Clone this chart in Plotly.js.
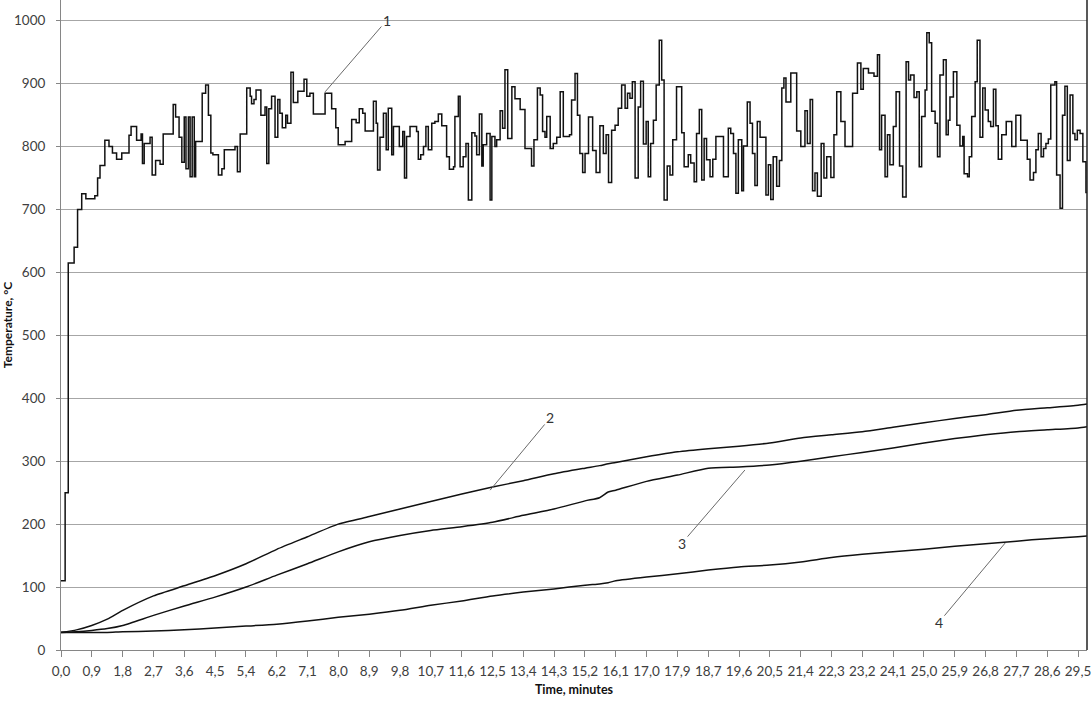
<!DOCTYPE html>
<html>
<head>
<meta charset="utf-8">
<script src="https://cdn.plot.ly/plotly-3.0.1.min.js"></script>
<style>
html,body{margin:0;padding:0;background:#fff;}
#chart{width:1092px;height:707px;}
</style>
</head>
<body>
<div id="chart"></div>
<script>
// ---- Data ----
// Tick labels of the time axis (minutes), one every 0.89275 min in the source data
const tickLabels = ["0,0","0,9","1,8","2,7","3,6","4,5","5,4","6,2","7,1","8,0","8,9","9,8","10,7","11,6","12,5","13,4","14,3","15,2","16,1","17,0","17,9","18,7","19,6","20,5","21,4","22,3","23,2","24,1","25,0","25,9","26,8","27,7","28,6","29,5"];
const labelStep = 0.89275;

// Curve 1: gas temperature (stepped trace)
const time1 = [0.00,0.12,0.21,0.38,0.48,0.60,0.72,0.98,1.06,1.13,1.27,1.39,1.49,1.61,1.76,1.97,2.03,2.19,2.32,2.36,2.41,2.58,2.64,2.74,2.87,2.96,3.25,3.32,3.42,3.50,3.57,3.62,3.69,3.74,3.80,3.86,3.90,4.09,4.19,4.27,4.34,4.40,4.56,4.66,4.73,5.04,5.11,5.19,5.38,5.48,5.52,5.59,5.65,5.79,5.91,5.96,6.02,6.10,6.20,6.28,6.34,6.41,6.51,6.56,6.66,6.73,6.86,7.04,7.12,7.21,7.31,7.65,7.84,7.96,8.03,8.23,8.42,8.55,8.64,8.74,8.81,9.05,9.13,9.17,9.24,
9.34,9.42,9.48,9.58,9.63,9.80,9.90,9.95,10.01,10.11,10.30,10.35,10.42,10.50,10.57,10.64,10.74,10.83,10.93,11.03,11.17,11.25,11.37,11.41,11.51,11.56,11.65,11.73,11.80,11.90,11.99,12.04,12.12,12.19,12.23,12.33,12.43,12.48,12.57,12.62,12.72,12.79,12.86,12.94,13.06,13.15,13.30,13.44,13.63,13.70,13.80,13.88,13.95,14.02,14.07,14.17,14.26,14.36,14.46,14.55,14.73,14.79,14.89,14.96,15.03,15.11,15.18,15.28,15.40,15.50,15.61,15.71,15.79,15.86,15.95,16.05,16.14,16.24,16.34,16.41,16.48,16.55,16.63,16.72,16.79,16.87,16.95,17.01,17.08,17.16,17.24,17.33,17.40,17.47,17.56,17.64,17.72,17.83,17.98,18.05,18.17,18.24,18.34,18.41,18.49,18.56,18.63,18.70,18.80,18.88,18.97,19.19,19.33,19.40,19.48,19.55,19.62,
19.72,19.77,19.88,19.96,20.03,20.10,20.17,20.25,20.42,20.49,20.56,20.63,20.73,20.81,20.88,20.94,21.00,21.14,21.31,21.43,21.55,21.62,21.70,21.77,21.84,21.91,22.02,22.10,22.18,22.30,22.39,22.47,22.59,22.71,22.93,23.07,23.17,23.24,23.39,23.55,23.65,23.71,23.77,23.87,23.94,24.01,24.11,24.19,24.29,24.38,24.48,24.55,24.61,24.71,24.79,24.86,24.93,25.03,25.08,25.15,25.22,25.32,25.39,25.46,25.56,25.64,25.70,25.75,25.85,25.95,26.04,26.12,26.16,26.26,26.31,26.38,26.48,26.54,26.62,26.70,26.77,26.86,26.93,27.01,27.08,27.15,27.25,27.38,27.54,27.66,27.80,27.99,28.07,28.17,28.24,28.31,28.39,28.46,28.53,28.60,28.67,28.79,28.84,28.94,29.01,29.08,29.15,29.23,29.31,29.37,29.44,29.52,29.60,29.69,29.72];
const temp1 = [110,250,615,640,700,725,717,722,750,770,810,800,790,780,790,818,832,810,820,773,805,815,755,778,772,820,867,847,815,775,847,765,847,752,847,752,808,885,898,850,790,787,755,765,795,800,760,820,893,880,868,875,890,850,863,773,860,880,815,875,853,830,850,837,918,870,888,907,880,885,852,885,860,830,803,808,843,838,860,853,825,872,837,763,815,
853,795,861,787,832,800,824,750,816,832,824,780,787,800,832,795,837,840,852,833,784,764,768,848,880,768,784,805,715,822,817,787,852,769,803,821,715,816,800,811,857,829,922,813,895,876,859,797,769,811,893,882,824,815,848,797,805,815,887,816,819,874,916,850,789,759,789,847,794,759,833,789,819,743,826,834,861,898,861,885,877,903,750,863,904,804,840,752,805,842,898,969,906,715,769,755,811,895,822,768,787,774,744,821,859,747,813,779,752,780,816,752,829,821,789,726,811,
730,801,871,837,789,738,840,815,723,771,716,784,737,778,893,909,871,917,825,800,857,805,875,730,758,721,805,750,784,751,819,887,840,800,885,933,891,924,917,912,946,795,850,752,819,771,832,887,769,720,935,906,914,878,887,768,848,890,981,965,856,837,784,914,938,819,842,879,919,834,801,816,757,752,784,848,903,969,815,893,858,840,832,891,833,780,819,840,800,850,810,780,747,759,795,821,784,797,805,812,898,903,755,702,850,896,778,882,821,811,826,821,776,727,727];

// Curves 2-4: smooth temperatures
const timeSmooth = [0,0.45,0.89,1.34,1.79,2.68,3.57,4.46,5.36,6.25,7.14,8.03,8.93,9.82,10.71,11.61,12.50,13.39,14.28,15.18,15.60,15.85,16.07,16.96,17.86,18.75,19.64,20.53,21.43,22.32,23.21,24.10,25.00,25.89,26.78,27.68,28.57,29.46,29.72];
const temp2 = [28,32,39,49,63,86,102,118,137,160,180,200,212,224,236,248,259,269,280,289,293,296,298,307,315,320,324,329,337,342,347,354,361,368,374,381,385,389,391];
const temp3 = [28,29,31,34,39,55,70,84,100,119,137,156,172,182,190,196,203,214,224,237,242,251,254,268,278,289,291,294,300,307,314,321,329,336,342,347,350,353,355];
const temp4 = [28,28,28,28,29,30,32,35,38,41,46,52,57,63,71,78,86,92,97,103,105,107,110,116,121,127,132,135,140,147,152,156,160,165,169,173,177,180,181];

// Curve labels: label text, point on curve, label position
const curveLabels = ["1","2","3","4"];
const labelTipT = [7.65,12.43,19.81,27.35];
const labelTipV = [887,254,286,170];
const labelPosT = [9.44,14.17,17.99,25.43];
const labelPosV = [1001,369,170,44];

// ---- Chart ----
const FONT = "Lato, 'Open Sans', 'DejaVu Sans', sans-serif";
const lineStyle = {color:'#111111', width:1.5};
const smoothStyle = {color:'#111111', width:1.5, shape:'spline', smoothing:0.6};

const traces = [
  {x:time1, y:temp1, type:'scatter', mode:'lines', line:Object.assign({shape:'hv'}, lineStyle), name:'1'},
  {x:timeSmooth, y:temp2, type:'scatter', mode:'lines', line:smoothStyle, name:'2'},
  {x:timeSmooth, y:temp3, type:'scatter', mode:'lines', line:smoothStyle, name:'3'},
  {x:timeSmooth, y:temp4, type:'scatter', mode:'lines', line:smoothStyle, name:'4'}
];

const annotations = curveLabels.map((txt,i)=>({
  x: labelTipT[i], y: labelTipV[i], xref:'x', yref:'y',
  ax: labelPosT[i], ay: labelPosV[i], axref:'x', ayref:'y',
  text: txt, showarrow:true, arrowhead:0, arrowwidth:1, arrowcolor:'#6a6a6a',
  standoff:0, startstandoff:0,
  font:{family:FONT, size:14, color:'#333333'}
}));

const layout = {
  width:1092, height:707,
  margin:{l:61, r:5, t:0, b:57, pad:0},
  paper_bgcolor:'#ffffff', plot_bgcolor:'#ffffff',
  showlegend:false,
  font:{family:FONT, size:13, color:'#404040'},
  xaxis:{
    range:[0, 29.72],
    tickvals: tickLabels.map((_,i)=>i*labelStep),
    ticktext: tickLabels,
    showgrid:false, zeroline:false,
    showline:true, linecolor:'#868686', linewidth:1,
    ticks:'outside', ticklen:6, tickcolor:'#868686', tickwidth:1,
    ticklabelstandoff:3,
    tickfont:{family:FONT, size:13.5, color:'#404040'},
    title:{text:'Time, minutes', font:{family:FONT, size:12.5, color:'#111111', weight:'bold'}, standoff:7}
  },
  yaxis:{
    range:[0, 1033],
    tickvals:[0,100,200,300,400,500,600,700,800,900,1000],
    showgrid:true, gridcolor:'#a6a6a6', gridwidth:1,
    zeroline:false,
    showline:true, linecolor:'#868686', linewidth:1,
    ticks:'outside', ticklen:4, tickcolor:'#868686', tickwidth:1,
    ticklabelstandoff:8,
    tickfont:{family:FONT, size:13.5, color:'#404040'},
    title:{text:'Temperature, °C', font:{family:FONT, size:12, color:'#111111', weight:'bold'}, standoff:3}
  },
  shapes:[
    {type:'line', xref:'paper', yref:'paper', x0:1, x1:1, y0:0, y1:1, line:{color:'#222222', width:1.5}}
  ],
  annotations: annotations
};

Plotly.newPlot('chart', traces, layout, {staticPlot:true, displayModeBar:false});
</script>
</body>
</html>
